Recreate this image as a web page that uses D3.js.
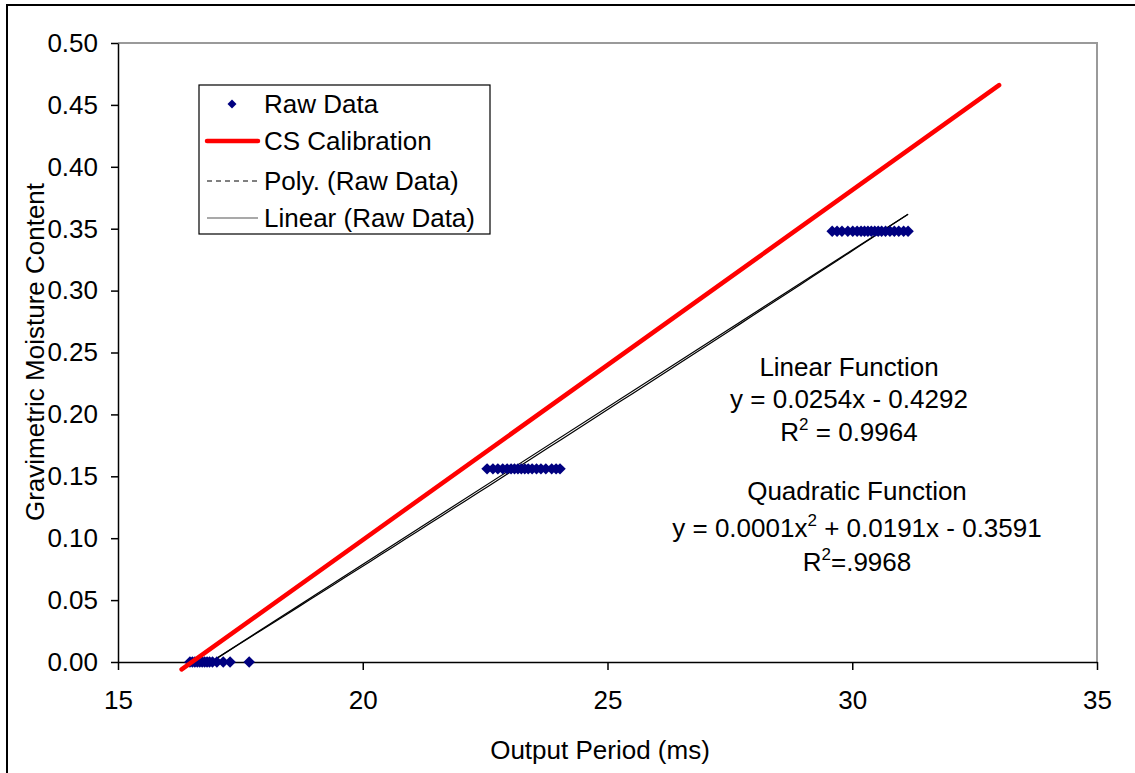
<!DOCTYPE html>
<html>
<head>
<meta charset="utf-8">
<script src="https://cdn.jsdelivr.net/npm/d3@7"></script>
<style>
  html, body { margin: 0; padding: 0; background: #fff; }
  svg { display: block; }
  text { font-family: Arial, "Liberation Sans", sans-serif; fill: #000; }
</style>
</head>
<body>
<svg id="chart" width="1135" height="773"></svg>
<script>
// ---- data ----
const rawX1 = [16.47, 16.52, 16.57, 16.62, 16.67, 16.72, 16.77, 16.82, 16.87, 16.93, 17.02, 17.15, 17.29, 17.68];
const rawY1 = 0.0;
const rawX2 = [22.54, 22.66, 22.76, 22.86, 22.95, 23.03, 23.1, 23.17, 23.24, 23.31, 23.38, 23.46, 23.55, 23.64, 23.74, 23.86, 23.95, 24.03];
const rawY2 = 0.156;
const rawX3 = [29.59, 29.69, 29.79, 29.91, 30.01, 30.1, 30.18, 30.25, 30.32, 30.39, 30.46, 30.53, 30.6, 30.68, 30.77, 30.86, 30.95, 31.05, 31.14];
const rawY3 = 0.348;

const calibX = [16.3, 33.0];
const calibY = [-0.006, 0.466];

const linearCoef = [0.0254, -0.4292];            // slope, intercept
const polyCoef = [0.00004, 0.02348, -0.4082];     // a, b, c (drawn curve)

const xTicks = [15, 20, 25, 30, 35];
const yTicks = [0, 0.05, 0.10, 0.15, 0.20, 0.25, 0.30, 0.35, 0.40, 0.45, 0.50];

const legendLabels = ["Raw Data", "CS Calibration", "Poly. (Raw Data)", "Linear (Raw Data)"];
const xTitle = "Output Period (ms)";
const yTitle = "Gravimetric Moisture Content";

// ---- layout ----
const svg = d3.select("#chart");
const L = 118, R = 1097, T = 43, B = 662;
const x = d3.scaleLinear().domain([15, 35]).range([L, R]);
const y = d3.scaleLinear().domain([0, 0.5]).range([B, T]);
const FS = 26;

// outer chart border (extends beyond window on right/bottom)
svg.append("rect").attr("x", 7).attr("y", 5).attr("width", 1300).attr("height", 1000)
  .attr("fill", "none").attr("stroke", "#000").attr("stroke-width", 2);

// plot area border (gray top/right)
svg.append("path")
  .attr("d", `M${L},${T}H${R}V${B}`)
  .attr("fill", "none").attr("stroke", "#9a9a9a").attr("stroke-width", 2);

svg.append("defs").append("clipPath").attr("id", "plotclip")
  .append("rect").attr("x", L).attr("y", T).attr("width", R - L).attr("height", B - T);

// axes
const yAxis = d3.axisLeft(y).tickValues(yTicks).tickFormat(d3.format(".2f"))
  .tickSize(7).tickSizeOuter(0).tickPadding(13);
const gy = svg.append("g").attr("transform", `translate(${L},0)`).call(yAxis);
gy.selectAll("text").style("font-size", FS + "px").attr("font-family", "Arial, 'Liberation Sans', sans-serif");

const xAxis = d3.axisBottom(x).tickValues(xTicks).tickFormat(d3.format("d"))
  .tickSize(8).tickSizeOuter(0).tickPadding(21);
const gx = svg.append("g").attr("transform", `translate(0,${B})`).call(xAxis);
gx.selectAll("text").style("font-size", FS + "px").attr("font-family", "Arial, 'Liberation Sans', sans-serif");
[gx, gy].forEach(g => {
  g.select(".domain").attr("stroke", "#000").attr("stroke-width", 1.5);
  g.selectAll(".tick line").attr("stroke", "#000").attr("stroke-width", 1.5);
});

// axis titles
svg.append("text").attr("x", 600).attr("y", 759).attr("text-anchor", "middle")
  .style("font-size", FS + "px").text(xTitle);
svg.append("text").attr("transform", "translate(44,352) rotate(-90)").attr("text-anchor", "middle")
  .style("font-size", FS + "px").text(yTitle);

// trendlines
const allX = rawX1.concat(rawX2, rawX3);
const [xmin, xmax] = d3.extent(allX);
const trend = svg.append("g").attr("clip-path", "url(#plotclip)");
const lineGen = d3.line().x(d => x(d[0])).y(d => y(d[1]));
const linPts = [xmin, xmax].map(v => [v, linearCoef[0] * v + linearCoef[1]]);
const polyXs = d3.range(0, 61).map(i => xmin + (xmax - xmin) * i / 60);
const polyPts = polyXs.map(v => [v, polyCoef[0] * v * v + polyCoef[1] * v + polyCoef[2]]);
trend.append("path").attr("d", lineGen(polyPts)).attr("fill", "none")
  .attr("stroke", "#000").attr("stroke-width", 1.2);
trend.append("path").attr("d", lineGen(linPts)).attr("fill", "none")
  .attr("stroke", "#000").attr("stroke-width", 1.2);

// raw data
const raw = rawX1.map(v => [v, rawY1]).concat(rawX2.map(v => [v, rawY2]), rawX3.map(v => [v, rawY3]));
const diamond = d3.symbol().type(d3.symbolSquare).size(66);
svg.append("g").selectAll("path").data(raw).join("path")
  .attr("d", diamond)
  .attr("transform", d => `translate(${x(d[0])},${y(d[1])}) rotate(45)`)
  .attr("fill", "#000080");

// calibration line
svg.append("path").attr("d", lineGen(calibX.map((v, i) => [v, calibY[i]])))
  .attr("fill", "none").attr("stroke", "#ff0000").attr("stroke-width", 4.5)
  .attr("stroke-linecap", "round");

// annotations
function multi(cx, ys, parts) {
  parts.forEach((p, i) => {
    const t = svg.append("text").attr("x", cx).attr("y", ys[i]).attr("text-anchor", "middle")
      .style("font-size", FS + "px");
    let raised = false;
    p.forEach(seg => {
      if (seg.sup) {
        t.append("tspan").attr("dy", -11).style("font-size", "17px").text(seg.sup);
        raised = true;
      } else {
        const ts = t.append("tspan").text(seg.t);
        if (raised) { ts.attr("dy", 11); raised = false; }
      }
    });
  });
}
multi(849, [376, 408, 441], [
  [{t: "Linear Function"}],
  [{t: "y = 0.0254x - 0.4292"}],
  [{t: "R"}, {sup: "2"}, {t: " = 0.9964"}]
]);
multi(857, [500, 537, 571], [
  [{t: "Quadratic Function"}],
  [{t: "y = 0.0001x"}, {sup: "2"}, {t: " + 0.0191x - 0.3591"}],
  [{t: "R"}, {sup: "2"}, {t: "=.9968"}]
]);

// legend
const lg = svg.append("g");
lg.append("rect").attr("x", 199).attr("y", 85).attr("width", 291).attr("height", 149)
  .attr("fill", "#fff").attr("stroke", "#000").attr("stroke-width", 1.2);
const rowsY = [104, 141, 181, 218];
lg.append("path").attr("d", d3.symbol().type(d3.symbolSquare).size(40)())
  .attr("transform", `translate(232,${rowsY[0]}) rotate(45)`).attr("fill", "#000080");
lg.append("line").attr("x1", 207).attr("x2", 258).attr("y1", rowsY[1]).attr("y2", rowsY[1])
  .attr("stroke", "#ff0000").attr("stroke-width", 4.5).attr("stroke-linecap", "round");
lg.append("line").attr("x1", 207).attr("x2", 258).attr("y1", rowsY[2]).attr("y2", rowsY[2])
  .attr("stroke", "#000").attr("stroke-width", 1).attr("stroke-dasharray", "5,4");
lg.append("line").attr("x1", 207).attr("x2", 258).attr("y1", rowsY[3]).attr("y2", rowsY[3])
  .attr("stroke", "#555").attr("stroke-width", 1.2);
legendLabels.forEach((s, i) => {
  lg.append("text").attr("x", 264).attr("y", rowsY[i] + 9).style("font-size", FS + "px").text(s);
});
</script>
</body>
</html>
